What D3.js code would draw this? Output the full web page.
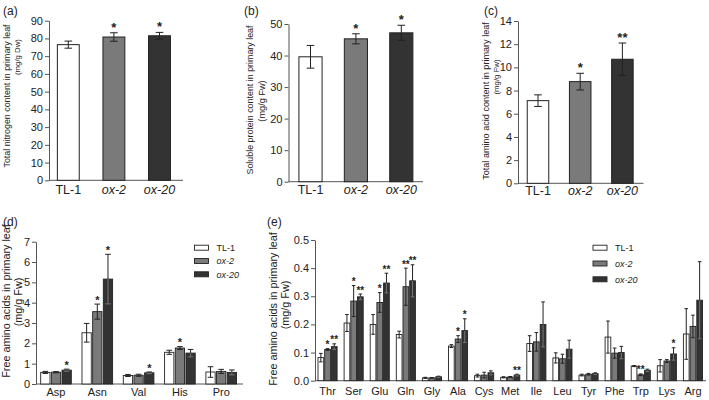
<!DOCTYPE html>
<html><head><meta charset="utf-8">
<script src="https://cdn.jsdelivr.net/npm/d3@7"></script>
<style>
body{margin:0;background:#fff}
svg{font-family:"Liberation Sans",Arial,sans-serif}
</style></head><body>
<svg id="c" width="709" height="400"></svg>
<script>
// ---------- DATA ----------
const lines = ["TL-1", "ox-2", "ox-20"];

const aValues = [76.5, 80.8, 81.5];
const aErrors = [2.0, 2.4, 1.9];
const aSig = ["", "*", "*"];

const bValues = [39.6, 45.3, 47.2];
const bErrors = [3.6, 1.6, 2.4];
const bSig = ["", "*", "*"];

const cValues = [7.13, 8.77, 10.7];
const cErrors = [0.5, 0.72, 1.4];
const cSig = ["", "*", "**"];

const dAminoAcids = ["Asp", "Asn", "Val", "His", "Pro"];
const dTL1   = [0.57, 2.52, 0.42, 1.56, 0.59];
const dOx2   = [0.58, 3.56, 0.43, 1.77, 0.62];
const dOx20  = [0.68, 5.16, 0.55, 1.52, 0.57];
const dTL1Err  = [0.05, 0.46, 0.05, 0.10, 0.26];
const dOx2Err  = [0.03, 0.37, 0.05, 0.07, 0.10];
const dOx20Err = [0.05, 1.22, 0.04, 0.18, 0.12];
const dTL1Sig  = ["", "", "", "", ""];
const dOx2Sig  = ["", "*", "", "*", ""];
const dOx20Sig = ["*", "*", "*", "", ""];

const eAminoAcids = ["Thr","Ser","Glu","Gln","Gly","Ala","Cys","Met","Ile","Leu","Tyr","Phe","Trp","Lys","Arg"];
const eTL1  = [0.082, 0.205, 0.200, 0.164, 0.010, 0.123, 0.018, 0.012, 0.132, 0.081, 0.020, 0.155, 0.052, 0.053, 0.166];
const eOx2  = [0.111, 0.283, 0.278, 0.334, 0.010, 0.148, 0.020, 0.013, 0.138, 0.078, 0.023, 0.098, 0.021, 0.070, 0.193];
const eOx20 = [0.121, 0.298, 0.347, 0.355, 0.014, 0.178, 0.028, 0.020, 0.200, 0.112, 0.025, 0.100, 0.037, 0.095, 0.286];
const eTL1Err  = [0.015, 0.030, 0.035, 0.012, 0.002, 0.005, 0.005, 0.002, 0.028, 0.018, 0.003, 0.057, 0.002, 0.022, 0.090];
const eOx2Err  = [0.003, 0.055, 0.035, 0.066, 0.001, 0.012, 0.010, 0.002, 0.033, 0.016, 0.003, 0.018, 0.003, 0.005, 0.040];
const eOx20Err = [0.010, 0.010, 0.035, 0.057, 0.002, 0.042, 0.007, 0.003, 0.080, 0.032, 0.003, 0.022, 0.004, 0.022, 0.137];
const eTL1Sig  = ["", "", "", "", "", "", "", "", "", "", "", "", "", "", ""];
const eOx2Sig  = ["*", "*", "*", "**", "", "*", "", "", "", "", "", "", "**", "", ""];
const eOx20Sig = ["**", "**", "**", "**", "", "*", "", "**", "", "", "", "", "", "*", ""];

const aTicks = d3.range(0, 91, 10);
const bTicks = d3.range(0, 51, 10);
const cTicks = d3.range(0, 15, 2);
const dTicks = d3.range(0, 8, 1);
const eTicks = [0, 0.1, 0.2, 0.3, 0.4, 0.5];

// ---------- STYLE ----------
const fills = ["#ffffff", "#7a7a7a", "#333333"];
const axisCol = "#555";
const svg = d3.select("#c");

function yAxis(g, y, ticks, fmt, x, fs) {
  const ax = d3.axisLeft(y).tickValues(ticks).tickSize(4).tickSizeOuter(0).tickPadding(2);
  if (fmt) ax.tickFormat(fmt);
  const a = g.append("g").attr("transform", `translate(${x},0)`).call(ax);
  a.select(".domain").attr("stroke", axisCol);
  a.selectAll(".tick line").attr("stroke", axisCol);
  a.selectAll("text").attr("font-size", fs).attr("fill", "#222").attr("font-family", "Liberation Sans, Arial, sans-serif");
}
function xLine(g, x0, x1, y) {
  g.append("line").attr("x1", x0).attr("x2", x1).attr("y1", y).attr("y2", y).attr("stroke", axisCol);
}
function label(text, x, y, size, opts = {}) {
  const t = svg.append("text").attr("x", x).attr("y", y).attr("font-size", size).attr("fill", "#222")
    .attr("text-anchor", opts.anchor || "middle").text(text);
  if (opts.rotate) t.attr("transform", `rotate(-90,${x},${y})`);
  if (opts.italic) t.attr("font-style", "italic");
  return t;
}

// ---------- SIMPLE PANELS (a,b,c) ----------
function simple(cfg) {
  const g = svg.append("g");
  const y = d3.scaleLinear().domain([0, cfg.ymax]).range([cfg.y0, cfg.yTop]);
  const x = d3.scaleBand().domain(lines).range(cfg.xr).paddingInner(cfg.pad).paddingOuter(cfg.pad / 2);
  xLine(g, cfg.ax, cfg.xEnd, cfg.y0);
  const bw = x.bandwidth();
  lines.forEach((k, i) => {
    const v = cfg.values[i], e = cfg.errors[i];
    g.append("rect").attr("x", x(k)).attr("y", y(v)).attr("width", bw).attr("height", y(0) - y(v))
      .attr("fill", fills[i]).attr("stroke", "#222").attr("stroke-width", 1);
    const cx = x(k) + bw / 2, cw = 3.8;
    g.append("line").attr("x1", cx).attr("x2", cx).attr("y1", y(v - e)).attr("y2", y(v + e)).attr("stroke", "#222");
    [v - e, v + e].forEach(t => g.append("line").attr("x1", cx - cw).attr("x2", cx + cw).attr("y1", y(t)).attr("y2", y(t)).attr("stroke", "#222"));
    if (cfg.sig[i]) g.append("text").attr("x", cx).attr("y", y(v + e) - 1).attr("text-anchor", "middle")
      .attr("font-size", 13).attr("font-weight", "bold").attr("fill", "#222").text(cfg.sig[i]);
    g.append("text").attr("x", cx).attr("y", cfg.y0 + cfg.lab).attr("text-anchor", "middle").attr("font-size", 12.5)
      .attr("fill", "#222").attr("font-style", i ? "italic" : "normal").text(k);
  });
  yAxis(g, y, cfg.ticks, null, cfg.ax, 11);
}

simple({values: aValues, errors: aErrors, sig: aSig, ticks: aTicks, ymax: 90, y0: 180.3, yTop: 20.7,
  xr: [45.5, 182.3], pad: 0.52, ax: 49, xEnd: 183, lab: 13.5});
simple({values: bValues, errors: bErrors, sig: bSig, ticks: bTicks, ymax: 50, y0: 181.7, yTop: 24,
  xr: [287.8, 424], pad: 0.49, ax: 288.5, xEnd: 423, lab: 12});
simple({values: cValues, errors: cErrors, sig: cSig, ticks: cTicks, ymax: 14, y0: 183.3, yTop: 21,
  xr: [516.9, 643.5], pad: 0.49, ax: 518, xEnd: 643.5, lab: 12});

label("(a)", 3, 15, 12, {anchor: "start"});
label("(b)", 244, 15, 12, {anchor: "start"});
label("(c)", 484, 15, 12, {anchor: "start"});

label("Total nitrogen content in primary leaf", 10, 96, 8.9, {rotate: true});
label("(mg/g Dw)", 19.5, 57, 7.8, {rotate: true});
label("Soluble protein content in primary leaf", 253, 100, 8.9, {rotate: true});
label("(mg/g Fw)", 264.5, 101, 9.2, {rotate: true});
label("Total amino acid content in primary leaf", 488.5, 101, 9.1, {rotate: true});
label("(mg/g Fw)", 498.5, 77, 7.8, {rotate: true});

// ---------- GROUPED PANELS (d,e) ----------
function grouped(cfg) {
  const g = svg.append("g");
  const y = d3.scaleLinear().domain([0, cfg.ymax]).range([cfg.y0, cfg.yTop]);
  const x0 = d3.scaleBand().domain(cfg.cats).range(cfg.xr).paddingInner(cfg.pad).paddingOuter(cfg.pad / 2);
  const x1 = d3.scaleBand().domain(lines).range([0, x0.bandwidth()]).paddingInner(cfg.pad1).paddingOuter(cfg.pad1 / 2);
  xLine(g, cfg.ax, cfg.xEnd, cfg.y0);
  const bw = x1.bandwidth();
  cfg.cats.forEach((c, j) => {
    lines.forEach((k, i) => {
      const v = cfg.series[i][j], e = cfg.errs[i][j];
      const bx = x0(c) + x1(k);
      g.append("rect").attr("x", bx).attr("y", y(v)).attr("width", bw).attr("height", y(0) - y(v))
        .attr("fill", fills[i]).attr("stroke", "#222").attr("stroke-width", 0.9);
      const cx = bx + bw / 2, cw = cfg.cap;
      const col = i === 2 ? "#777" : "#222";
      g.append("line").attr("x1", cx).attr("x2", cx).attr("y1", y(Math.max(0, v - e))).attr("y2", y(v)).attr("stroke", col);
      g.append("line").attr("x1", cx).attr("x2", cx).attr("y1", y(v)).attr("y2", y(v + e)).attr("stroke", "#222");
      g.append("line").attr("x1", cx - cw).attr("x2", cx + cw).attr("y1", y(v + e)).attr("y2", y(v + e)).attr("stroke", "#222");
      g.append("line").attr("x1", cx - cw).attr("x2", cx + cw).attr("y1", y(v - e)).attr("y2", y(v - e)).attr("stroke", col);
      const s = cfg.sigs[i][j];
      if (s) g.append("text").attr("x", cx).attr("y", y(v + e) - 0.5).attr("text-anchor", "middle")
        .attr("font-size", cfg.sigFs).attr("font-weight", "bold").attr("fill", "#222").text(s);
    });
    g.append("text").attr("x", x0(c) + x0.bandwidth() / 2).attr("y", cfg.y0 + cfg.lab).attr("text-anchor", "middle")
      .attr("font-size", cfg.xfs).attr("fill", "#222").text(c);
  });
  yAxis(g, y, cfg.ticks, cfg.fmt, cfg.ax, 11);
  // legend
  lines.forEach((k, i) => {
    const ly = cfg.leg[1] + i * cfg.leg[2];
    g.append("rect").attr("x", cfg.leg[0]).attr("y", ly - 2.5).attr("width", 14).attr("height", 5)
      .attr("fill", fills[i]).attr("stroke", "#222").attr("stroke-width", 0.9);
    g.append("text").attr("x", cfg.leg[0] + 22).attr("y", ly + 3.3).attr("font-size", 9).attr("fill", "#222")
      .attr("font-style", i ? "italic" : "normal").text(k);
  });
}

grouped({cats: dAminoAcids, series: [dTL1, dOx2, dOx20], errs: [dTL1Err, dOx2Err, dOx20Err],
  sigs: [dTL1Sig, dOx2Sig, dOx20Sig], ticks: dTicks, fmt: d3.format("d"), ymax: 7, y0: 384, yTop: 241.7,
  xr: [35.35, 241.85], pad: 0.225, pad1: 0.13, ax: 36, xEnd: 243, cap: 2.8, sigFs: 11, xfs: 11, lab: 12,
  leg: [194.5, 247.7, 13.3]});

grouped({cats: eAminoAcids, series: [eTL1, eOx2, eOx20], errs: [eTL1Err, eOx2Err, eOx20Err],
  sigs: [eTL1Sig, eOx2Sig, eOx20Sig], ticks: eTicks, fmt: d3.format(".1f"), ymax: 0.5, y0: 380.7, yTop: 240,
  xr: [314.5, 706], pad: 0.23, pad1: 0.15, ax: 315, xEnd: 706, cap: 1.8, sigFs: 10, xfs: 11, lab: 14.5,
  leg: [593, 247.7, 15.8]});

label("(d)", 3, 226, 12, {anchor: "start"});
label("(e)", 267, 226, 12, {anchor: "start"});
label("Free amino acids in primary leaf", 10, 301, 10.8, {rotate: true});
label("(mg/g Fw)", 22, 302, 10.8, {rotate: true});
label("Free amino acids in primary leaf", 276.5, 309, 10.8, {rotate: true});
label("(mg/g Fw)", 288.5, 305, 10.8, {rotate: true});
</script>
</body></html>
